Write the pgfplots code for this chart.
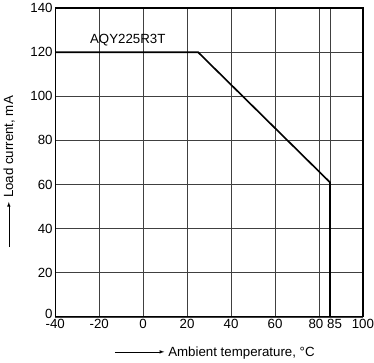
\documentclass[border=0pt]{standalone}
\usepackage{fontspec}
\setmainfont{Liberation Sans}
\usepackage{pgfplots}
\pgfplotsset{compat=1.18}
\begin{document}
\begin{tikzpicture}
\begin{axis}[
  scale only axis,
  width=301pt, height=302pt,
  xmin=-40, xmax=100, ymin=0, ymax=140,
  xtick={-40,-20,0,20,40,60,80,85,100},
  xticklabels={-40,-20,0,20,40,60,{80\kern6pt},{\kern9pt 85},100},
  ytick={0,20,...,140},
  yticklabels={\raisebox{3pt}[\height][\depth]{0},20,40,60,80,100,120,140},
  grid=major,
  major grid style={line width=0.6pt, black!75},
  axis line style={line width=1.2pt},
  tick style={draw=none},
  /pgf/number format/assume math mode=true,
  tick label style={font=\fontsize{13}{15}\selectfont},
  xticklabel style={inner xsep=0pt, inner ysep=2pt},
  yticklabel style={xshift=1pt},
  xlabel={\tikz[baseline=-0.6ex]\draw[-latex, line width=0.6pt] (0,0)--(1.7cm,0);\ Ambient temperature, °C},
  ylabel={\tikz[baseline=-0.6ex]\draw[-latex, line width=0.6pt] (0,0)--(1.55cm,0);\ Load current, mA},
  label style={font=\fontsize{13}{15}\selectfont},
  xlabel style={at={(axis description cs:0.518,-0.116)}, anchor=center},
  ylabel style={at={(axis description cs:-0.15,0.47)}, anchor=center},
  clip=false,
]
\addplot[black, line width=1.6pt] coordinates {(-40,120) (25,120) (85,61) (85,0)};
\node[font=\fontsize{13}{15}\selectfont, anchor=south] at (axis cs:-7,121) {AQY225R3T};
\end{axis}
\end{tikzpicture}
\end{document}
